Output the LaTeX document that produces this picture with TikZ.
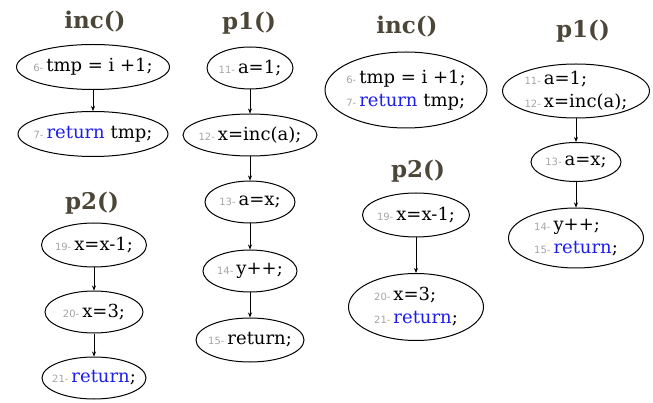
\documentclass[tikz,border=0pt]{standalone}
\usepackage{fontspec}
\setmainfont{DejaVu Serif}
\newfontfamily\numfont{DejaVu Sans}
\definecolor{titlegray}{RGB}{75, 70, 55}
\definecolor{linegray}{RGB}{165, 165, 165}
\definecolor{kwblue}{RGB}{30, 30, 235}
\usetikzlibrary{shapes.geometric, arrows.meta}
\newcommand{\lnum}[1]{{\numfont\fontsize{10}{10}\selectfont\color{linegray}#1}\hspace{3pt}}
\newcommand{\kw}[1]{\textcolor{kwblue}{#1}}
\tikzset{
  stmt/.style={ellipse, draw, line width=1pt, inner xsep=-18pt, inner ysep=-8pt,
               align=left, font=\fontsize{18}{23}\selectfont},
  fname/.style={font=\fontsize{23}{26}\selectfont\bfseries, text=titlegray},
  flow/.style={-{Stealth[length=5pt, width=4pt]}, line width=0.7pt}
}
\begin{document}
\begin{tikzpicture}[x=1pt, y=-1pt]
  \useasboundingbox (0, 0) rectangle (653, 403);

  % inc() and p2(), separate statements
  \node[fname] (inca) at (95, 22) {inc()};
  \node[stmt, minimum width=153, minimum height=45] (s6a) at (93, 67) {\lnum{6-}tmp = i +1;};
  \node[stmt, minimum width=150, minimum height=45] (s7a) at (93, 134) {\lnum{7-}\kw{return} tmp;};
  \draw[flow] (s6a) -- (s7a);

  \node[fname] (p2a) at (92, 203) {p2()};
  \node[stmt, minimum width=105, minimum height=44] (s19a) at (94, 245) {\lnum{19-}x=x-1;};
  \node[stmt, minimum width=98, minimum height=42] (s20a) at (94, 312) {\lnum{20-}x=3;};
  \node[stmt, minimum width=104, minimum height=42] (s21a) at (94, 378) {\lnum{21-}\kw{return};};
  \draw[flow] (s19a) -- (s20a);
  \draw[flow] (s20a) -- (s21a);

  % p1(), separate statements
  \node[fname] (p1a) at (249, 23) {p1()};
  \node[stmt, minimum width=86, minimum height=42] (s11a) at (250, 68) {\lnum{11-}a=1;};
  \node[stmt, minimum width=134, minimum height=42] (s12a) at (250, 135) {\lnum{12-}x=inc(a);};
  \node[stmt, minimum width=90, minimum height=42] (s13a) at (250, 202) {\lnum{13-}a=x;};
  \node[stmt, minimum width=94, minimum height=42] (s14a) at (250, 271) {\lnum{14-}y++;};
  \node[stmt, minimum width=108, minimum height=44] (s15a) at (250, 340) {\lnum{15-}return;};
  \draw[flow] (s11a) -- (s12a);
  \draw[flow] (s12a) -- (s13a);
  \draw[flow] (s13a) -- (s14a);
  \draw[flow] (s14a) -- (s15a);

  % inc() and p2(), basic blocks
  \node[fname] (incb) at (407, 27) {inc()};
  \node[stmt, minimum width=162, minimum height=76] (s67b) at (406, 90)
    {\lnum{6-}tmp = i +1;\\\lnum{7-}\kw{return} tmp;};

  \node[fname] (p2b) at (418, 171) {p2()};
  \node[stmt, minimum width=107, minimum height=44] (s19b) at (416, 215) {\lnum{19-}x=x-1;};
  \node[stmt, minimum width=135, minimum height=67] (s2021b) at (416, 307)
    {\lnum{20-}x=3;\\\lnum{21-}\kw{return};};
  \draw[flow] (s19b) -- (s2021b);

  % p1(), basic blocks
  \node[fname] (p1b) at (583, 31) {p1()};
  \node[stmt, minimum width=147, minimum height=54] (s1112b) at (576, 91)
    {\lnum{11-}a=1;\\\lnum{12-}x=inc(a);};
  \node[stmt, minimum width=90, minimum height=39] (s13b) at (576, 162) {\lnum{13-}a=x;};
  \node[stmt, minimum width=135, minimum height=60] (s1415b) at (576, 238)
    {\lnum{14-}y++;\\\lnum{15-}\kw{return};};
  \draw[flow] (s1112b) -- (s13b);
  \draw[flow] (s13b) -- (s1415b);
\end{tikzpicture}
\end{document}
